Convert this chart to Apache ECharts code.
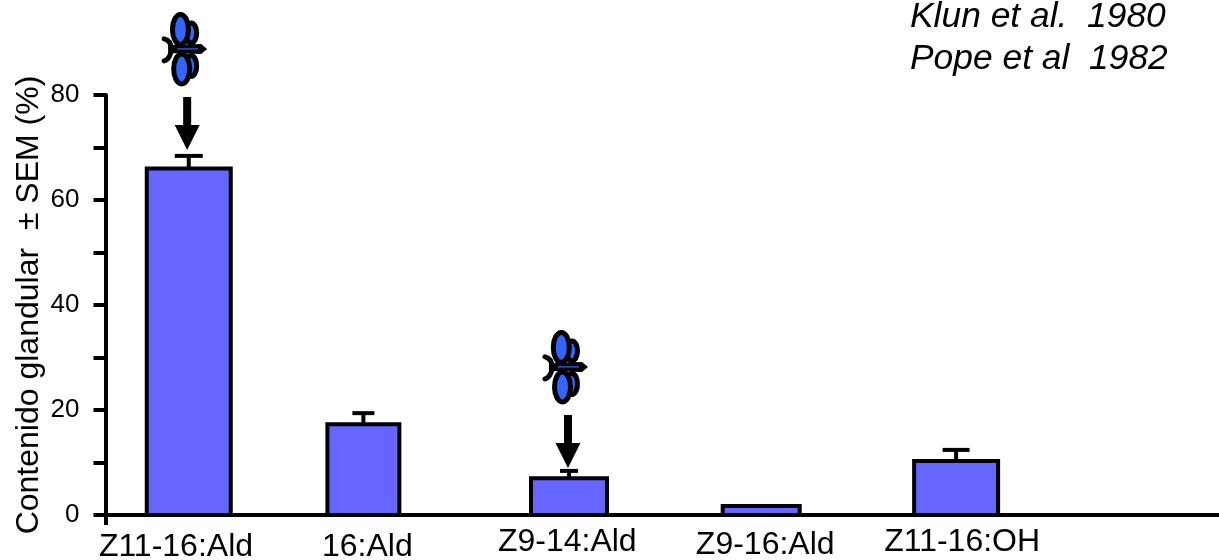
<!DOCTYPE html>
<html>
<head>
<meta charset="utf-8">
<style>html,body{margin:0;padding:0;background:#fff}#c{width:1219px;height:560px}</style>
<script src="https://cdn.jsdelivr.net/npm/echarts@6/dist/echarts.min.js"></script>
</head>
<body>
<div id="c"></div>
<script>
const categories = ['Z11-16:Ald', '16:Ald', 'Z9-14:Ald', 'Z9-16:Ald', 'Z11-16:OH'];
const means = [66, 17.3, 7, 1.7, 10.3];
const errors = [2.4, 2.1, 1.4, 0, 2.1];
const barCentres = [83.3, 258, 463.7, 656, 851];
const barWidths = [84, 72, 76, 77, 84];
const capWidths = [28, 22, 18, 0, 27];
const labelCentres = [70.5, 262, 462, 660, 857];
const labelRows = [32.5, 32.5, 27.5, 30.5, 27.5];
const markedBars = [0, 2];
const arrowGaps = [6, 3];
const arrowShift = [-1.6, -1];
const yTicks = [0, 20, 40, 60, 80];
const citations = ['Klun et al.  1980', 'Pope et al  1982'];
const citationRows = [17, 59];
const yTitle = 'Contenido glandular  \u00b1 SEM (%)';

const FONT = '"Liberation Sans", Arial, sans-serif';
const INK = '#000';
const STROKE = 4;

function renderBar(params, api) {
  const i = api.value(0);
  const base = api.coord([barCentres[i], 0]);
  const top = api.coord([barCentres[i], means[i]]);
  const cap = api.coord([barCentres[i], means[i] + errors[i]]);
  const w = barWidths[i];
  const children = [];
  if (errors[i] > 0) {
    children.push({type: 'line', shape: {x1: top[0], y1: top[1], x2: cap[0], y2: cap[1]}, style: {stroke: INK, lineWidth: STROKE}});
    children.push({type: 'line', shape: {x1: cap[0] - capWidths[i] / 2, y1: cap[1], x2: cap[0] + capWidths[i] / 2, y2: cap[1]}, style: {stroke: INK, lineWidth: STROKE}});
  }
  children.push({type: 'rect', shape: {x: base[0] - w / 2, y: top[1], width: w, height: base[1] - top[1]}, style: {fill: '#6666FF', stroke: INK, lineWidth: STROKE}});
  const lx = api.coord([labelCentres[i], 0]);
  children.push({type: 'text', style: {text: categories[i], x: lx[0], y: base[1] + labelRows[i], align: 'center', verticalAlign: 'middle', fill: INK, font: '32px ' + FONT}});
  return {type: 'group', children};
}

function renderMarker(params, api) {
  const k = api.value(0);
  const i = markedBars[k];
  const cap = api.coord([barCentres[i], means[i] + errors[i]]);
  const ax = cap[0] + arrowShift[k];
  const tip = cap[1] - arrowGaps[k];
  const by = tip - 101;
  const black = {fill: INK};
  const wing = {fill: '#3366FF', stroke: INK, lineWidth: 5};
  const e = (cx, cy, rx, ry, style) => ({type: 'ellipse', shape: {cx, cy, rx, ry}, style});
  return {type: 'group', children: [
    {type: 'polygon', shape: {points: [[ax - 4, tip - 53], [ax + 4, tip - 53], [ax + 4, tip - 25], [ax + 12.5, tip - 25], [ax, tip], [ax - 12.5, tip - 25], [ax - 4, tip - 25]]}, style: black},
    e(ax + 4, by - 16, 5.5, 10, wing),
    e(ax + 4, by + 17, 5.5, 10.5, wing),
    e(ax - 6.7, by - 19.5, 8, 15, wing),
    e(ax - 5.5, by + 20, 8, 15, wing),
    {type: 'polygon', shape: {points: [[ax - 19, by - 4], [ax + 14, by - 5], [ax + 20, by], [ax + 14, by + 5], [ax - 19, by + 4]]}, style: black},
    {type: 'line', shape: {x1: ax - 10, y1: by, x2: ax + 11, y2: by}, style: {stroke: '#3366FF', lineWidth: 1.2}},
    {type: 'bezierCurve', shape: {x1: ax - 16, y1: by, cpx1: ax - 16, cpy1: by - 6, cpx2: ax - 19, cpy2: by - 9, x2: ax - 23, y2: by - 10}, style: {stroke: INK, lineWidth: 5, fill: 'none', lineCap: 'round'}},
    {type: 'bezierCurve', shape: {x1: ax - 16, y1: by, cpx1: ax - 16, cpy1: by + 6, cpx2: ax - 19, cpy2: by + 11, x2: ax - 23, y2: by + 12}, style: {stroke: INK, lineWidth: 5, fill: 'none', lineCap: 'round'}}
  ]};
}

const chart = echarts.init(document.getElementById('c'), null, {renderer: 'canvas'});
chart.setOption({
  animation: false,
  backgroundColor: '#fff',
  grid: {left: 105.5, right: 0, top: 95, bottom: 45, outerBoundsMode: 'none'},
  xAxis: {
    type: 'value', min: 0, max: 1114, interval: 1114,
    splitLine: {show: false},
    axisLabel: {show: false},
    axisLine: {show: true, lineStyle: {color: INK, width: STROKE}},
    axisTick: {show: true, customValues: [0], length: 10, lineStyle: {color: INK, width: STROKE}}
  },
  yAxis: {
    type: 'value', min: 0, max: 80, interval: 10,
    splitLine: {show: false},
    axisLine: {show: true, lineStyle: {color: INK, width: STROKE}},
    axisTick: {show: true, length: 12, lineStyle: {color: INK, width: STROKE}},
    axisLabel: {
      margin: 26, color: INK, fontFamily: FONT, fontSize: 26,
      formatter: v => (yTicks.includes(v) ? String(v) : '')
    },
    name: yTitle, nameLocation: 'middle', nameRotate: 90, nameGap: 60, nameMoveOverlap: false,
    nameTextStyle: {color: INK, fontFamily: FONT, fontSize: 32}
  },
  graphic: citations.map((t, i) => ({
    type: 'text', x: 910, y: citationRows[i],
    style: {text: t, fill: INK, font: 'italic 35.4px ' + FONT, verticalAlign: 'middle'}
  })),
  series: [
    {type: 'custom', clip: false, z: 3, renderItem: renderBar, data: categories.map((c, i) => [i]), encode: {x: 0, y: 0}, silent: true},
    {type: 'custom', clip: false, z: 4, renderItem: renderMarker, data: markedBars.map((b, k) => [k]), encode: {x: 0, y: 0}, silent: true}
  ]
});
</script>
</body>
</html>
